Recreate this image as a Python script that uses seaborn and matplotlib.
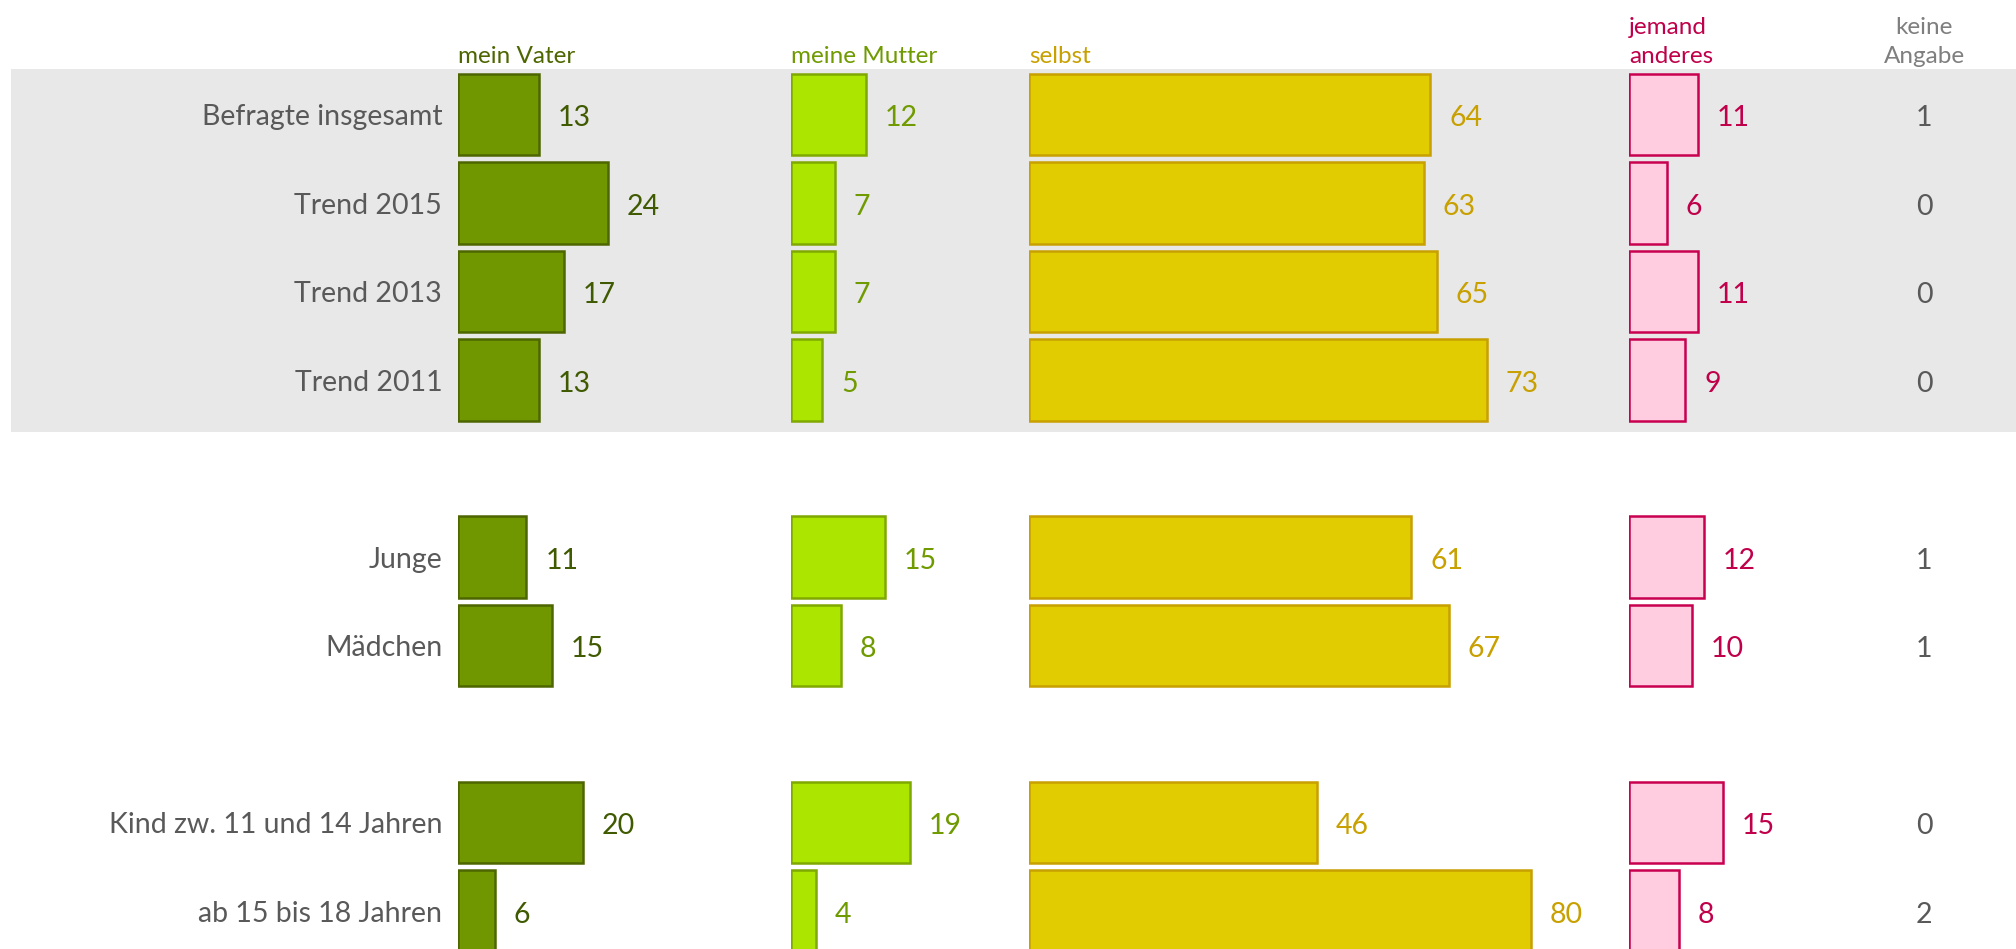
import numpy as np
import pandas as pd
import seaborn as sns
from matplotlib import pyplot as plt

# Daten
kategorien = ["Befragte insgesamt", "Trend 2015", "Trend 2013", "Trend 2011",
              "Junge", "Mädchen",
              "Kind zw. 11 und 14 Jahren", "ab 15 bis 18 Jahren"]
mein_vater = [13, 24, 17, 13, 11, 15, 20, 6]
meine_mutter = [12, 7, 7, 5, 15, 8, 19, 4]
selbst = [64, 63, 65, 73, 61, 67, 46, 80]
jemand_anderes = [11, 6, 11, 9, 12, 10, 15, 8]
keine_angabe = [1, 0, 0, 0, 1, 1, 0, 2]

# Reihenfolge mit Leerzeilen zwischen den Gruppen
reihenfolge = kategorien[:4] + ["_gap1"] + kategorien[4:6] + ["_gap2"] + kategorien[6:]

df = pd.DataFrame({"kategorie": kategorien,
                   "mein Vater": mein_vater,
                   "meine Mutter": meine_mutter,
                   "selbst": selbst,
                   "jemand\nanderes": jemand_anderes})

sns.set_style("white")
plt.rcParams['font.family'] = ['Lato', 'DejaVu Sans']

W, H = 2016, 949
PX = 6.27  # pixel pro Prozentpunkt
ROW = 88.5  # pixel pro Zeile
TOP0 = 114.7  # Mitte der ersten Zeile (px von oben)
ylim = ((H - TOP0) / ROW, -TOP0 / ROW)
FS = 20.5
FS_HEAD = 17.5

fig = plt.figure(figsize=(W / 100, H / 100), dpi=100)

# Hintergrund mit grauem Band
ax_bg = fig.add_axes([0, 0, 1, 1])
ax_bg.set_ylim(*ylim)
ax_bg.axhspan(-0.52, 3.585, xmin=11 / W, xmax=1, color="#e8e8e8", lw=0)
ax_bg.axis("off")

spalten = [
    # spalte, links px, breite px, fuellung, rand, textfarbe, kopffarbe
    ("mein Vater", 457.5, 320, "#709600", "#4d6600", "#3f5a00", "#4d6600"),
    ("meine Mutter", 791, 220, "#ace600", "#7fa800", "#6f9a00", "#6f9a00"),
    ("selbst", 1029, 580, "#e0cc00", "#c8a000", "#c8a000", "#c8a000"),
    ("jemand\nanderes", 1629, 220, "#ffcce0", "#c8004f", "#c0004a", "#c0004a"),
]

for i, (spalte, left, width, fill, edge, tcol, hcol) in enumerate(spalten):
    ax = fig.add_axes([left / W, 0, width / W, 1])
    ax.patch.set_alpha(0)
    sns.barplot(data=df, x=spalte, y="kategorie", order=reihenfolge,
                orient="h", color=fill, edgecolor=edge, linewidth=1.8,
                width=0.92, saturation=1, ax=ax)
    ax.set_xlim(0, width / PX)
    ax.set_ylim(*ylim)
    for c in ax.containers:
        labels = ax.bar_label(c, padding=13.5, color=tcol, fontsize=FS)
        for t in labels:
            t.xyann = (t.xyann[0], -2.5)
    sns.despine(ax=ax, left=True, bottom=True)
    ax.set_xticks([])
    ax.set_xlabel("")
    ax.set_ylabel("")
    if i == 0:
        ticks = [reihenfolge.index(k) for k in kategorien]
        ax.set_yticks(ticks)
        ax.set_yticklabels(kategorien, color="#595959", fontsize=FS)
        ax.tick_params(axis="y", length=0, pad=11)
    else:
        ax.set_yticks([])
    fig.text(left / W, 1 - 63 / H, spalte, color=hcol, fontsize=FS_HEAD,
             ha="left", va="baseline", linespacing=1.5)

# keine Angabe als Text
for k, v in zip(kategorien, keine_angabe):
    ax_bg.annotate(str(v), xy=(1924 / W, reihenfolge.index(k)),
                   xycoords=ax_bg.get_yaxis_transform(),
                   xytext=(0, -2.5), textcoords="offset points",
                   color="#595959", fontsize=FS, ha="center", va="center")
fig.text(1924 / W, 1 - 63 / H, "keine\nAngabe", color="#7f7f7f",
         fontsize=FS_HEAD, ha="center", va="baseline", linespacing=1.5)

fig.savefig("out.png", dpi=100)
